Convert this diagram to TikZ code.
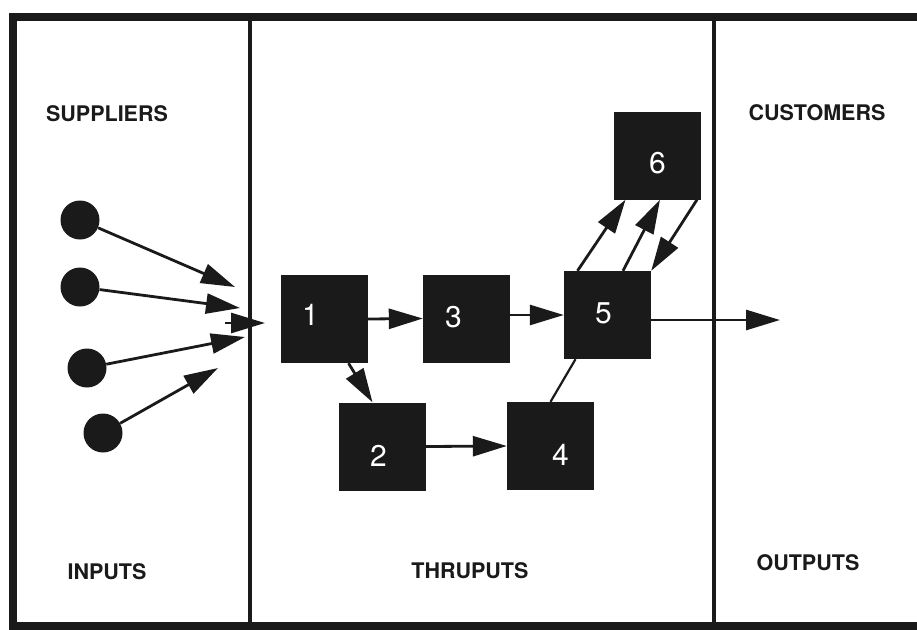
\documentclass[tikz,border=0pt]{standalone}
\usepackage{fontspec}
\setmainfont{TeX Gyre Heros}
\usetikzlibrary{arrows.meta}
\definecolor{ink}{HTML}{1A1A1A}
\tikzset{
  box/.style={draw=none, fill=ink, minimum width=87pt, minimum height=88pt, inner sep=0pt},
  num/.style={text=white, font=\fontsize{30}{33}\selectfont},
  dot/.style={circle, fill=ink, minimum size=39pt, inner sep=0pt},
  flow/.style={draw=ink, line width=2.8pt, -{Triangle[length=34pt,width=20pt]}},
  plain/.style={draw=ink, line width=2.2pt},
  title/.style={font=\fontsize{21.5}{24}\selectfont\bfseries, text=ink, inner sep=0pt},
  divider/.style={draw=ink, line width=4pt},
}
\begin{document}
\begin{tikzpicture}[x=1pt, y=-1pt]
\useasboundingbox (0,0) rectangle (917,629);
% frame
\draw[ink, line width=8.5pt] (13,17) rectangle (930,626);
\coordinate (t1) at (250,17);
\coordinate (u1) at (250,626);
\coordinate (t2) at (714,17);
\coordinate (u2) at (714,626);
\draw[divider] (t1) -- (u1);
\draw[divider] (t2) -- (u2);
% titles
\node[title] (sup) at (107,114) {SUPPLIERS};
\node[title] (cus) at (817,113) {CUSTOMERS};
\node[title] (inp) at (107,572) {INPUTS};
\node[title] (thr) at (470,571) {THRUPUTS};
\node[title] (outp) at (808,563) {OUTPUTS};
% suppliers
\node[dot] (c1) at (80,220) {};
\node[dot] (c2) at (80,287) {};
\node[dot] (c3) at (87,368) {};
\node[dot] (c4) at (103,433) {};
\coordinate (e1) at (235,287);
\coordinate (e2) at (240,308);
\coordinate (e3) at (245,337);
\coordinate (e4) at (218,368);
\coordinate (m0) at (225,323);
\coordinate (m1) at (265,323);
\draw[flow] (c1) -- (e1);
\draw[flow] (c2) -- (e2);
\draw[flow] (c3) -- (e3);
\draw[flow] (c4) -- (e4);
\draw[flow] (m0) -- (m1);
% boxes
\node[box, label={[num, xshift=-14pt, yshift=4pt]center:1}] (b1) at (324.5,319) {};
\node[box, label={[num, xshift=-4pt, yshift=-9pt]center:2}] (b2) at (382.5,446.5) {};
\node[box, label={[num, xshift=-13pt, yshift=1pt]center:3}] (b3) at (466.5,318.5) {};
\node[box, label={[num, xshift=10pt, yshift=-9pt]center:4}] (b4) at (550.5,446) {};
\node[box, label={[num, xshift=-4pt, yshift=2pt]center:5}] (b5) at (607.5,315) {};
\node[box, label={[num, xshift=0pt, yshift=-8pt]center:6}] (b6) at (657.5,155.5) {};
\coordinate (out) at (780,320);
% connectors
\draw[flow] (b1.east) -- (b3.west);
\draw[flow] (b3.east |- b5.west) -- (b5.west);
\draw[flow] ([xshift=24pt]b1.south) -- ([xshift=-10pt]b2.north);
\draw[flow] (b2.east) -- (b4.west);
\draw[plain] (b4.north) -- ([xshift=-32pt]b5.south);
\draw[flow] ([xshift=-30pt]b5.north) -- ([xshift=-32pt]b6.south);
\draw[flow] ([xshift=15.5pt]b5.north) -- ([xshift=2.5pt]b6.south);
\draw[flow] ([xshift=39.5pt]b6.south) -- (b5.north east);
\draw[flow] ([yshift=-5pt]b5.east) -- (out);
\end{tikzpicture}
\end{document}
